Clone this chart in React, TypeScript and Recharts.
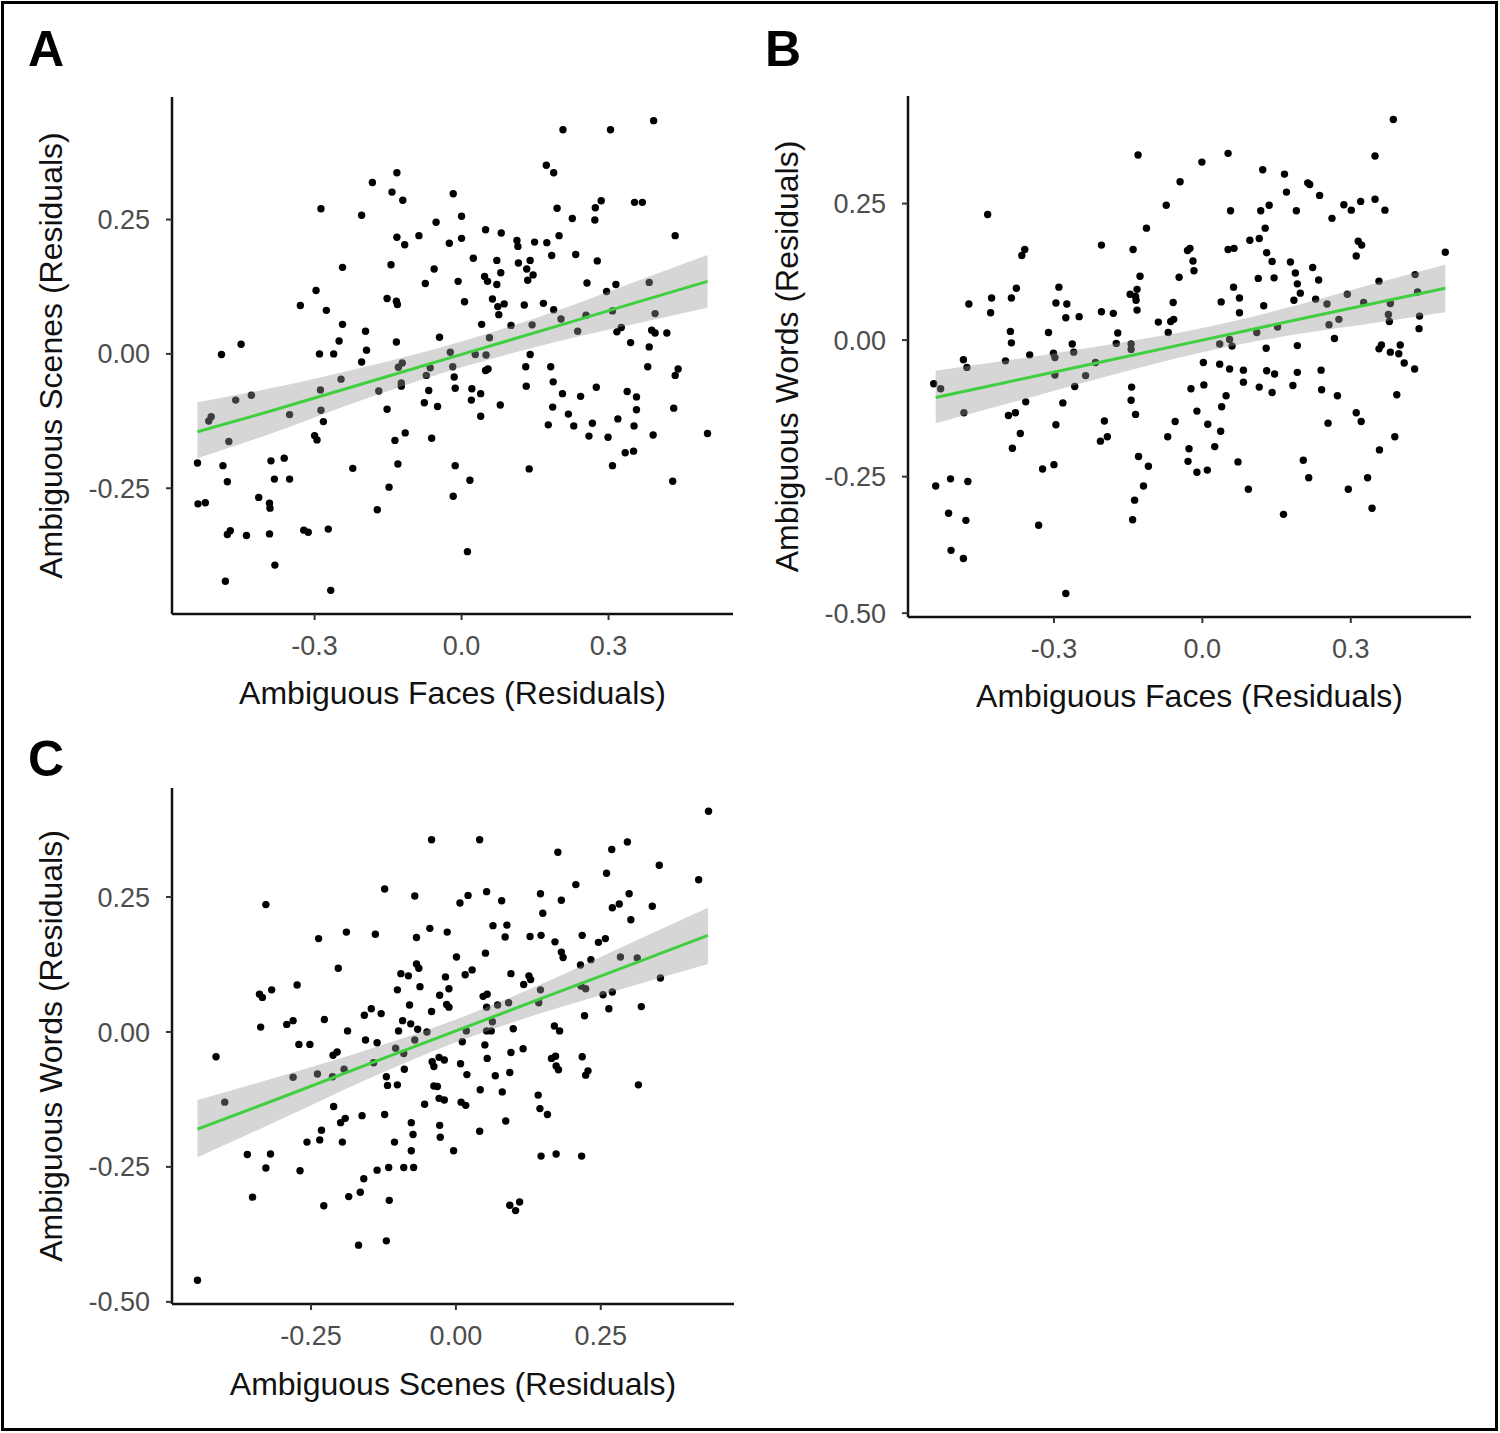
import React from "react";
import { ComposedChart, Scatter, Line, Area, XAxis, YAxis } from "recharts";

const FONT = '"Liberation Sans", Arial, Helvetica, sans-serif';
const TICK_GREY = "#4d4d4d";
const FIT_GREEN = "#3fcf3f";

// Panel A: Ambiguous Faces (x) vs Ambiguous Scenes (y), residuals
const pointsA: [number, number][] = [
  [-0.132, 0.337], [-0.182, 0.319], [-0.142, 0.301], [-0.12, 0.286], [-0.017, 0.298], [-0.287, 0.27],
  [-0.204, 0.258], [-0.052, 0.245], [0.0, 0.256], [-0.132, 0.217], [-0.087, 0.22], [-0.116, 0.203],
  [-0.025, 0.206], [0.0, 0.215], [-0.243, 0.161], [-0.144, 0.166], [-0.056, 0.158], [-0.074, 0.131],
  [-0.007, 0.135], [-0.297, 0.118], [-0.329, 0.09], [-0.276, 0.081], [-0.152, 0.103], [-0.133, 0.098],
  [-0.131, 0.092], [-0.243, 0.055], [-0.196, 0.042], [-0.25, 0.024], [-0.133, 0.022], [-0.045, 0.031],
  [-0.45, 0.018], [-0.49, -0.001], [-0.29, 0.0], [-0.261, 0.0], [-0.194, 0.007], [-0.023, 0.003],
  [0.392, 0.434], [0.207, 0.417], [0.304, 0.417], [0.173, 0.351], [0.188, 0.337], [0.285, 0.285],
  [0.273, 0.272], [0.353, 0.282], [0.369, 0.282], [0.195, 0.271], [0.226, 0.252], [0.272, 0.249],
  [0.436, 0.22], [0.049, 0.231], [0.081, 0.225], [0.199, 0.22], [0.113, 0.211], [0.115, 0.2],
  [0.149, 0.208], [0.174, 0.207], [0.024, 0.178], [0.072, 0.174], [0.116, 0.169], [0.14, 0.174],
  [0.184, 0.183], [0.233, 0.185], [0.277, 0.173], [0.08, 0.151], [0.133, 0.158], [0.146, 0.147],
  [0.047, 0.144], [0.053, 0.135], [0.072, 0.129], [0.135, 0.137], [0.256, 0.132], [0.315, 0.129],
  [0.296, 0.116], [0.383, 0.133], [0.006, 0.097], [0.063, 0.102], [0.074, 0.088], [0.087, 0.093],
  [0.076, 0.073], [0.128, 0.091], [0.167, 0.094], [0.188, 0.082], [0.203, 0.065], [0.254, 0.072],
  [0.308, 0.08], [0.395, 0.075], [0.041, 0.055], [0.101, 0.053], [0.144, 0.054], [0.237, 0.042],
  [0.317, 0.041], [0.326, 0.049], [0.388, 0.044], [0.395, 0.039], [0.419, 0.039], [0.345, 0.021],
  [0.383, 0.013], [0.057, 0.03], [0.028, -0.001], [0.05, -0.002], [0.14, -0.001],
  [-0.204, -0.015], [-0.121, -0.017], [-0.129, -0.025], [-0.064, -0.026], [-0.018, -0.024], [-0.015, -0.043],
  [-0.013, -0.064], [-0.246, -0.047], [-0.288, -0.067], [-0.169, -0.069], [-0.123, -0.054], [-0.123, -0.06],
  [-0.072, -0.04], [-0.067, -0.068], [-0.461, -0.086], [-0.429, -0.077], [-0.511, -0.117], [-0.516, -0.125],
  [-0.351, -0.113], [-0.287, -0.105], [-0.282, -0.126], [-0.152, -0.103], [-0.076, -0.091], [-0.049, -0.098],
  [-0.3, -0.152], [-0.295, -0.16], [-0.475, -0.163], [-0.136, -0.161], [-0.115, -0.147], [-0.061, -0.157],
  [-0.539, -0.203], [-0.487, -0.208], [-0.389, -0.199], [-0.362, -0.194], [-0.222, -0.213], [-0.13, -0.205],
  [-0.013, -0.208], [-0.478, -0.238], [-0.382, -0.233], [-0.351, -0.233], [-0.148, -0.248], [-0.538, -0.279],
  [-0.523, -0.277], [-0.414, -0.267], [-0.392, -0.278], [-0.391, -0.287], [-0.172, -0.29], [-0.017, -0.265],
  [-0.478, -0.336], [-0.472, -0.329], [-0.439, -0.338], [-0.392, -0.335], [-0.322, -0.328], [-0.313, -0.332],
  [-0.272, -0.326], [-0.381, -0.393], [-0.482, -0.423], [-0.267, -0.44],
  [0.049, -0.031], [0.054, -0.028], [0.131, -0.024], [0.182, -0.024], [0.38, -0.024], [0.442, -0.028],
  [0.436, -0.04], [0.021, -0.065], [0.02, -0.086], [0.039, -0.074], [0.039, -0.116], [0.079, -0.095],
  [0.132, -0.06], [0.187, -0.052], [0.206, -0.074], [0.243, -0.079], [0.275, -0.062], [0.338, -0.07],
  [0.357, -0.08], [0.357, -0.104], [0.433, -0.101], [0.186, -0.099], [0.218, -0.112], [0.177, -0.132],
  [0.229, -0.134], [0.267, -0.129], [0.319, -0.121], [0.352, -0.134], [0.26, -0.153], [0.299, -0.155],
  [0.391, -0.151], [0.502, -0.148], [0.334, -0.184], [0.351, -0.181], [0.308, -0.208], [0.138, -0.214],
  [0.017, -0.235], [0.431, -0.237], [0.012, -0.368],
];
const fitXA = [-0.539, -0.4, -0.2, 0, 0.2, 0.35, 0.502];
const fitYA = [-0.145, -0.109, -0.055, -0.001, 0.053, 0.094, 0.135];
const bandLowA = [-0.194, -0.152, -0.085, -0.025, 0.024, 0.055, 0.086];
const bandHighA = [-0.09, -0.066, -0.025, 0.023, 0.082, 0.133, 0.184];

// Panel B: Ambiguous Faces (x) vs Ambiguous Words (y)
const pointsB: [number, number][] = [
  [-0.13, 0.339], [-0.001, 0.326], [-0.045, 0.29], [-0.073, 0.247], [-0.434, 0.23], [-0.113, 0.205],
  [-0.204, 0.174], [-0.14, 0.166], [-0.025, 0.168], [-0.03, 0.164], [-0.019, 0.145], [-0.017, 0.127],
  [-0.359, 0.166], [-0.365, 0.155], [-0.126, 0.117], [-0.047, 0.115], [-0.376, 0.095], [-0.29, 0.097],
  [-0.132, 0.093], [-0.146, 0.084], [-0.135, 0.08], [-0.134, 0.073], [-0.472, 0.066], [-0.426, 0.077],
  [-0.386, 0.077], [-0.296, 0.068], [-0.274, 0.066], [-0.428, 0.05], [-0.276, 0.041], [-0.249, 0.043],
  [-0.204, 0.052], [-0.18, 0.049], [-0.132, 0.055], [-0.059, 0.069], [-0.089, 0.033], [-0.064, 0.034],
  [-0.058, 0.038], [-0.069, 0.014], [-0.388, 0.016], [-0.311, 0.014], [-0.171, 0.013],
  [0.386, 0.404], [0.052, 0.342], [0.349, 0.337], [0.122, 0.312], [0.166, 0.304], [0.213, 0.288],
  [0.217, 0.285], [0.17, 0.271], [0.237, 0.265], [0.057, 0.237], [0.118, 0.237], [0.135, 0.247],
  [0.19, 0.237], [0.286, 0.248], [0.301, 0.238], [0.32, 0.254], [0.349, 0.258], [0.369, 0.238],
  [0.262, 0.223], [0.127, 0.205], [0.096, 0.183], [0.115, 0.186], [0.052, 0.166], [0.064, 0.168],
  [0.13, 0.16], [0.141, 0.144], [0.178, 0.143], [0.223, 0.133], [0.315, 0.181], [0.322, 0.174],
  [0.311, 0.154], [0.491, 0.161], [0.188, 0.123], [0.113, 0.113], [0.145, 0.114], [0.192, 0.103],
  [0.235, 0.11], [0.198, 0.086], [0.185, 0.073], [0.063, 0.097], [0.075, 0.077], [0.038, 0.07],
  [0.075, 0.05], [0.124, 0.063], [0.229, 0.075], [0.252, 0.066], [0.293, 0.084], [0.357, 0.108],
  [0.43, 0.12], [0.326, 0.069], [0.38, 0.067], [0.435, 0.088], [0.376, 0.047], [0.378, 0.034],
  [0.439, 0.044], [0.438, 0.021], [0.276, 0.038], [0.256, 0.028], [0.152, 0.024], [0.11, 0.014],
  [0.267, 0.003], [0.055, 0.001],
  [-0.386, -0.005], [-0.263, -0.007], [-0.26, -0.022], [-0.301, -0.024], [-0.298, -0.032], [-0.349, -0.027],
  [-0.398, -0.038], [-0.483, -0.036], [-0.476, -0.05], [-0.174, -0.006], [-0.144, -0.007], [-0.144, -0.017],
  [0.002, -0.041], [-0.216, -0.041], [-0.298, -0.064], [-0.236, -0.065], [-0.543, -0.08], [-0.529, -0.089],
  [-0.258, -0.085], [-0.143, -0.086], [0.003, -0.082], [-0.023, -0.089], [-0.357, -0.113], [-0.282, -0.115],
  [-0.144, -0.11], [-0.482, -0.133], [-0.392, -0.138], [-0.378, -0.133], [-0.135, -0.136], [-0.011, -0.13],
  [-0.198, -0.148], [-0.055, -0.149], [-0.296, -0.155], [-0.368, -0.171], [-0.206, -0.185], [-0.192, -0.177],
  [-0.07, -0.177], [-0.384, -0.198], [-0.027, -0.199], [-0.129, -0.213], [-0.029, -0.222], [-0.109, -0.231],
  [-0.011, -0.242], [-0.323, -0.236], [-0.3, -0.228], [-0.539, -0.267], [-0.509, -0.254], [-0.474, -0.259],
  [-0.119, -0.267], [-0.137, -0.293], [-0.513, -0.317], [-0.478, -0.33], [-0.141, -0.329], [-0.331, -0.339],
  [-0.508, -0.385], [-0.483, -0.4], [-0.276, -0.464],
  [0.035, -0.007], [0.06, -0.011], [0.129, -0.015], [0.192, -0.01], [0.357, -0.016], [0.362, -0.009],
  [0.38, -0.022], [0.397, -0.025], [0.4, -0.009], [0.408, -0.042], [0.429, -0.053], [0.035, -0.044],
  [0.055, -0.053], [0.083, -0.055], [0.13, -0.056], [0.146, -0.062], [0.192, -0.059], [0.24, -0.055],
  [0.083, -0.077], [0.115, -0.086], [0.141, -0.096], [0.183, -0.083], [0.241, -0.091], [0.273, -0.102],
  [0.393, -0.1], [0.048, -0.102], [0.039, -0.122], [0.311, -0.133], [0.321, -0.149], [0.254, -0.152],
  [0.011, -0.154], [0.037, -0.167], [0.025, -0.195], [0.389, -0.177], [0.358, -0.201], [0.072, -0.223],
  [0.204, -0.22], [0.01, -0.238], [0.215, -0.252], [0.334, -0.252], [0.093, -0.273], [0.295, -0.273],
  [0.343, -0.308], [0.164, -0.319],
];
const fitXB = [-0.539, -0.4, -0.2, 0, 0.2, 0.35, 0.491];
const fitYB = [-0.105, -0.078, -0.039, 0.0, 0.039, 0.068, 0.095];
const bandLowB = [-0.152, -0.118, -0.068, -0.022, 0.012, 0.032, 0.051];
const bandHighB = [-0.056, -0.038, -0.01, 0.022, 0.066, 0.104, 0.138];

// Panel C: Ambiguous Scenes (x) vs Ambiguous Words (y)
const pointsC: [number, number][] = [
  [-0.042, 0.356], [-0.328, 0.236], [-0.123, 0.265], [-0.071, 0.252], [-0.237, 0.173], [-0.189, 0.185],
  [-0.139, 0.181], [-0.068, 0.175], [-0.045, 0.192], [-0.015, 0.185], [-0.203, 0.118], [-0.068, 0.126],
  [-0.064, 0.118], [-0.095, 0.108], [-0.082, 0.104], [-0.018, 0.102], [-0.012, 0.08], [-0.274, 0.087],
  [-0.339, 0.07], [-0.334, 0.064], [-0.318, 0.078], [-0.101, 0.078], [-0.062, 0.084], [-0.028, 0.068],
  [-0.08, 0.05], [-0.016, 0.051], [-0.012, 0.046], [-0.042, 0.038], [-0.158, 0.031], [-0.146, 0.043],
  [-0.129, 0.034], [-0.227, 0.023], [-0.337, 0.009], [-0.292, 0.014], [-0.281, 0.021], [-0.092, 0.021],
  [-0.078, 0.015], [-0.187, 0.002], [-0.099, 0.002], [-0.066, 0.005], [-0.05, 0.0],
  [0.436, 0.409], [0.041, 0.356], [0.296, 0.352], [0.269, 0.338], [0.176, 0.333], [0.351, 0.309],
  [0.26, 0.294], [0.419, 0.282], [0.207, 0.273], [0.007, 0.239], [0.021, 0.253], [0.053, 0.26],
  [0.079, 0.243], [0.146, 0.256], [0.182, 0.244], [0.15, 0.22], [0.299, 0.256], [0.27, 0.23],
  [0.282, 0.237], [0.339, 0.233], [0.302, 0.208], [0.064, 0.197], [0.088, 0.198], [0.085, 0.176],
  [0.128, 0.177], [0.147, 0.179], [0.171, 0.167], [0.218, 0.179], [0.246, 0.166], [0.258, 0.173],
  [0.182, 0.148], [0.185, 0.138], [0.051, 0.146], [0.001, 0.139], [0.233, 0.134], [0.215, 0.124],
  [0.284, 0.139], [0.313, 0.137], [0.016, 0.106], [0.028, 0.115], [0.095, 0.108], [0.126, 0.104],
  [0.129, 0.097], [0.117, 0.088], [0.353, 0.1], [0.146, 0.078], [0.047, 0.066], [0.054, 0.07],
  [0.053, 0.046], [0.072, 0.05], [0.091, 0.054], [0.143, 0.054], [0.216, 0.085], [0.224, 0.08],
  [0.254, 0.069], [0.27, 0.074], [0.264, 0.043], [0.32, 0.047], [0.222, 0.03], [0.063, 0.019],
  [0.099, 0.006], [0.17, 0.011], [0.179, 0.002], [0.053, 0.002], [0.061, 0.002], [0.018, 0.002],
  [-0.414, -0.046], [-0.271, -0.023], [-0.252, -0.023], [-0.212, -0.043], [-0.205, -0.037], [-0.156, -0.015],
  [-0.136, -0.02], [-0.104, -0.03], [-0.09, -0.04], [-0.071, -0.015], [-0.029, -0.047], [-0.02, -0.052],
  [-0.038, -0.064], [-0.041, -0.055], [-0.281, -0.084], [-0.239, -0.078], [-0.213, -0.083], [-0.193, -0.069],
  [-0.142, -0.057], [-0.089, -0.069], [-0.12, -0.083], [-0.118, -0.099], [-0.101, -0.098], [-0.038, -0.1],
  [-0.032, -0.101], [-0.029, -0.123], [-0.02, -0.126], [-0.054, -0.134], [-0.399, -0.13], [-0.211, -0.138],
  [-0.199, -0.168], [-0.191, -0.16], [-0.162, -0.155], [-0.123, -0.153], [-0.077, -0.168], [-0.028, -0.173],
  [-0.074, -0.19], [-0.027, -0.195], [-0.232, -0.182], [-0.257, -0.204], [-0.235, -0.2], [-0.196, -0.204],
  [-0.106, -0.204], [-0.077, -0.22], [-0.004, -0.22], [-0.36, -0.227], [-0.32, -0.226], [-0.328, -0.252],
  [-0.269, -0.257], [-0.136, -0.256], [-0.116, -0.251], [-0.09, -0.251], [-0.073, -0.251], [-0.159, -0.272],
  [-0.351, -0.306], [-0.185, -0.305], [-0.165, -0.297], [-0.115, -0.312], [-0.228, -0.322], [-0.168, -0.395],
  [-0.12, -0.387], [-0.446, -0.46],
  [0.011, -0.018], [0.05, -0.024], [0.008, -0.059], [0.019, -0.079], [0.054, -0.049], [0.095, -0.038],
  [0.116, -0.031], [0.068, -0.081], [0.093, -0.075], [0.165, -0.049], [0.172, -0.045], [0.173, -0.063],
  [0.177, -0.07], [0.218, -0.046], [0.228, -0.072], [0.224, -0.08], [0.315, -0.098], [0.042, -0.107],
  [0.08, -0.111], [0.142, -0.117], [0.009, -0.13], [0.017, -0.136], [0.145, -0.142], [0.158, -0.153],
  [0.086, -0.165], [0.041, -0.184], [0.147, -0.23], [0.173, -0.226], [0.217, -0.23], [0.093, -0.321],
  [0.11, -0.315], [0.103, -0.331],
];
const fitXC = [-0.446, -0.3, -0.15, 0, 0.15, 0.3, 0.435];
const fitYC = [-0.18, -0.121, -0.059, 0.002, 0.063, 0.124, 0.179];
const bandLowC = [-0.232, -0.161, -0.086, -0.019, 0.036, 0.084, 0.126];
const bandHighC = [-0.126, -0.081, -0.032, 0.023, 0.09, 0.164, 0.23];

const ticksX3 = [-0.3, 0, 0.3];
const ticksX25 = [-0.25, 0, 0.25];
const ticksY3 = [-0.25, 0, 0.25];
const ticksY4 = [-0.5, -0.25, 0, 0.25];

const Dot = (props: any) => <circle cx={props.cx} cy={props.cy} r={3.7} fill="#000" />;

interface PanelProps {
  left: number;
  top: number;
  plotTop: number;
  yAxisWidth: number;
  plotWidth: number;
  plotHeight: number;
  xDomain: [number, number];
  yDomain: [number, number];
  xTicks: number[];
  xDigits: number;
  yTicks: number[];
  xTitle: string;
  yTitle: string;
  xTitleY: number;
  yTitleX: number;
  points: [number, number][];
  fitX: number[];
  fitY: number[];
  bandLow: number[];
  bandHigh: number[];
}

const Panel: React.FC<PanelProps> = (p) => {
  const points = p.points.map(([x, y]) => ({ x, y }));
  const fit = p.fitX.map((x, i) => ({ x, fit: p.fitY[i], band: [p.bandLow[i], p.bandHigh[i]] }));
  const xAxisHeight = 120;
  const width = p.yAxisWidth + p.plotWidth + 20;
  const height = p.plotTop + p.plotHeight + xAxisHeight;
  const xTitleX = p.yAxisWidth + p.plotWidth / 2;
  const yTitleY = p.plotTop + p.plotHeight / 2;

  return (
    <div style={{ position: "absolute", left: p.left, top: p.top }}>
      <ComposedChart
        width={width}
        height={height}
        data={fit}
        margin={{ top: p.plotTop, right: 20, bottom: 0, left: 0 }}
        style={{ fontFamily: FONT }}
      >
        <XAxis
          type="number"
          dataKey="x"
          domain={p.xDomain}
          allowDataOverflow
          ticks={p.xTicks}
          interval={0}
          tickFormatter={(v: number) => v.toFixed(p.xDigits)}
          height={xAxisHeight}
          axisLine={{ stroke: "#111", strokeWidth: 2.5 }}
          tickLine={{ stroke: "#333", strokeWidth: 2 }}
          tickSize={6}
          tickMargin={16}
          tick={{ fill: TICK_GREY, fontSize: 27, fontFamily: FONT }}
          label={{
            value: p.xTitle,
            content: () => (
              <text x={xTitleX} y={p.xTitleY} textAnchor="middle" fontSize={32} fill="#111" fontFamily={FONT}>
                {p.xTitle}
              </text>
            ),
          }}
        />
        <YAxis
          type="number"
          domain={p.yDomain}
          allowDataOverflow
          ticks={p.yTicks}
          interval={0}
          tickFormatter={(v: number) => v.toFixed(2)}
          width={p.yAxisWidth}
          axisLine={{ stroke: "#111", strokeWidth: 2.5 }}
          tickLine={{ stroke: "#333", strokeWidth: 2 }}
          tickSize={6}
          tickMargin={16}
          tick={{ fill: TICK_GREY, fontSize: 27, fontFamily: FONT }}
          label={{
            value: p.yTitle,
            content: () => (
              <text
                x={p.yTitleX}
                y={yTitleY}
                transform={`rotate(-90, ${p.yTitleX}, ${yTitleY})`}
                textAnchor="middle"
                fontSize={32}
                fill="#111"
                fontFamily={FONT}
              >
                {p.yTitle}
              </text>
            ),
          }}
        />
        <Scatter data={points} dataKey="y" shape={Dot} isAnimationActive={false} zIndex={50} />
        <Area
          dataKey="band"
          type="monotone"
          stroke="none"
          fill="#999999"
          fillOpacity={0.4}
          isAnimationActive={false}
        />
        <Line dataKey="fit" type="linear" stroke={FIT_GREEN} strokeWidth={3} dot={false} isAnimationActive={false} />
      </ComposedChart>
    </div>
  );
};

const App: React.FC = () => {
  return (
    <div style={{ position: "absolute", left: 0, top: 0, width: 1500, height: 1433, background: "#fff" }}>
      <Panel
        left={0}
        top={0}
        plotTop={97}
        yAxisWidth={172}
        plotWidth={561}
        plotHeight={517}
        xDomain={[-0.591, 0.554]}
        yDomain={[-0.484, 0.478]}
        xTicks={ticksX3}
        xDigits={1}
        yTicks={ticksY3}
        xTitle="Ambiguous Faces (Residuals)"
        yTitle="Ambiguous Scenes (Residuals)"
        xTitleY={704}
        yTitleX={62}
        points={pointsA}
        fitX={fitXA}
        fitY={fitYA}
        bandLow={bandLowA}
        bandHigh={bandHighA}
      />
      <Panel
        left={760}
        top={0}
        plotTop={96}
        yAxisWidth={148}
        plotWidth={563}
        plotHeight={521}
        xDomain={[-0.595, 0.543]}
        yDomain={[-0.507, 0.447]}
        xTicks={ticksX3}
        xDigits={1}
        yTicks={ticksY4}
        xTitle="Ambiguous Faces (Residuals)"
        yTitle="Ambiguous Words (Residuals)"
        xTitleY={707}
        yTitleX={38}
        points={pointsB}
        fitX={fitXB}
        fitY={fitYB}
        bandLow={bandLowB}
        bandHigh={bandHighB}
      />
      <Panel
        left={0}
        top={700}
        plotTop={88}
        yAxisWidth={172}
        plotWidth={562}
        plotHeight={516}
        xDomain={[-0.49, 0.48]}
        yDomain={[-0.504, 0.452]}
        xTicks={ticksX25}
        xDigits={2}
        yTicks={ticksY4}
        xTitle="Ambiguous Scenes (Residuals)"
        yTitle="Ambiguous Words (Residuals)"
        xTitleY={695}
        yTitleX={62}
        points={pointsC}
        fitX={fitXC}
        fitY={fitYC}
        bandLow={bandLowC}
        bandHigh={bandHighC}
      />
      <svg
        width={1500}
        height={1433}
        style={{ position: "absolute", left: 0, top: 0, pointerEvents: "none" }}
      >
        <rect x={2.5} y={2.5} width={1494} height={1427} fill="none" stroke="#000" strokeWidth={3} />
        <text x={28} y={66} fontSize={50} fontWeight="bold" fontFamily={FONT} fill="#000">A</text>
        <text x={765} y={66} fontSize={50} fontWeight="bold" fontFamily={FONT} fill="#000">B</text>
        <text x={28} y={776} fontSize={50} fontWeight="bold" fontFamily={FONT} fill="#000">C</text>
      </svg>
    </div>
  );
};

export default App;
